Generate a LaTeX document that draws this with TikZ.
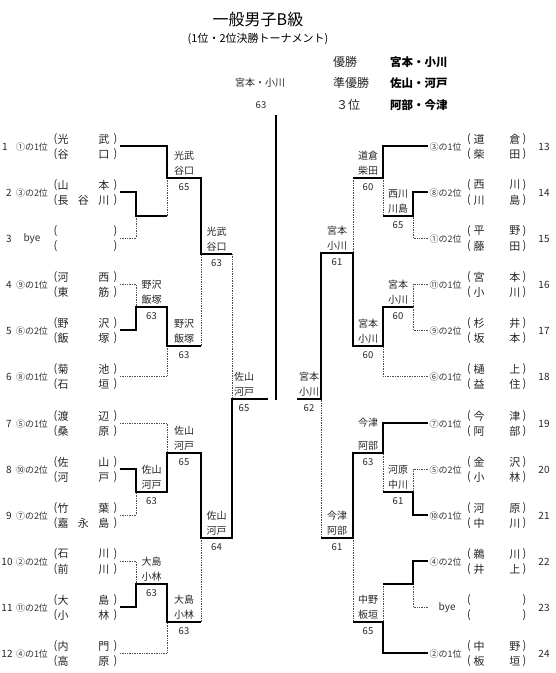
\documentclass[tikz,border=0pt]{standalone}
\usepackage{fontspec}
\setmainfont{Noto Sans CJK JP}
\newcommand{\lent}[7]{%
  \coordinate (#1) at (120,#2);
  \node[rn] (#1n) at (#4,{#2+1}) {#3};
  \node[lbl] (#1l) at (32,{#2+1}) {#5};
  \node[nm] (#1pa) at (55.5,{#2-7}) {(};
  \node[nm] (#1pb) at (115.5,{#2-7}) {)};
  \node[nm] (#1t) at (83.5,{#2-7}) {\hbox to 52pt{#6}};
  \node[nm] (#1qa) at (55.5,{#2+8}) {(};
  \node[nm] (#1qb) at (115.5,{#2+8}) {)};
  \node[nm] (#1b) at (83.5,{#2+8}) {\hbox to 52pt{#7}};
}
\newcommand{\rent}[6]{%
  \coordinate (#1) at (428,#2);
  \node[lbl,anchor=west] (#1l) at (429.5,{#2+1}) {#4};
  \node[nm] (#1pa) at (469,{#2-7}) {(};
  \node[nm] (#1pb) at (524.5,{#2-7}) {)};
  \node[nm] (#1t) at (497,{#2-7}) {\hbox to 47pt{#5}};
  \node[nm] (#1qa) at (469,{#2+8}) {(};
  \node[nm] (#1qb) at (524.5,{#2+8}) {)};
  \node[nm] (#1b) at (497,{#2+8}) {\hbox to 47pt{#6}};
  \node[rn] (#1n) at (544,{#2+1}) {#3};
}
\newcommand{\wlab}[6]{%
  \node[wn] (#1t) at (#2,{#3-22}) {#4};
  \node[wn] (#1b) at (#2,{#3-7}) {#5};
  \node[sc] (#1s) at (#2,{#3+9}) {#6};
}
\begin{document}
\begin{tikzpicture}[x=1pt,y=-1pt,
  win/.style={line width=2.3pt,line join=miter},
  lose/.style={line width=0.7pt,densely dotted,black!70},
  nm/.style={inner sep=0pt,font=\fontsize{11}{12}\selectfont,text=black!85},
  lbl/.style={inner sep=0pt,font=\fontsize{9}{10}\selectfont,text=black!80},
  rn/.style={inner sep=0pt,font=\fontsize{10}{11}\selectfont,text=black!85},
  wn/.style={inner sep=0pt,font=\fontsize{10}{11}\selectfont,text=black!85},
  sc/.style={inner sep=0pt,font=\fontsize{9.5}{10}\selectfont,text=black!85},
  hd/.style={inner sep=0pt,font=\fontsize{12}{13}\selectfont,text=black!85},
  hb/.style={inner sep=0pt,font=\fontsize{11.5}{12}\selectfont\bfseries}]
\fill[white] (0,0) rectangle (556,673);
\useasboundingbox (0,0) rectangle (556,673);

% header
\node[inner sep=0pt,font=\fontsize{16}{17}\selectfont] (title) at (258,19) {一般男子B級};
\node[inner sep=0pt,font=\fontsize{11}{12}\selectfont] (sub) at (258,39) {(1位・2位決勝トーナメント)};
\node[hd,anchor=west] (h1) at (333,62) {優勝};
\node[hd,anchor=west] (h2) at (333,83) {準優勝};
\node[hd,anchor=west] (h3) at (336,105) {３位};
\node[hb,anchor=west] (w1) at (390,62) {宮本・小川};
\node[hb,anchor=west] (w2) at (390,83) {佐山・河戸};
\node[hb,anchor=west] (w3) at (390,105) {阿部・今津};
\node[wn] (champ) at (260,83) {宮本・小川};
\node[sc] (champs) at (261,105) {63};

% entries left
\lent{l1}{146}{1}{5}{①の1位}{光\hfil 武}{谷\hfil 口}
\lent{l2}{192}{2}{9}{③の2位}{山\hfil 本}{長\hfil 谷\hfil 川}
\lent{l3}{238}{3}{9}{{\fontsize{10}{11}\selectfont bye}}{}{}
\lent{l4}{284}{4}{9}{⑨の1位}{河\hfil 西}{東\hfil 筋}
\lent{l5}{330}{5}{9}{⑥の2位}{野\hfil 沢}{飯\hfil 塚}
\lent{l6}{376}{6}{9}{⑧の1位}{菊\hfil 池}{石\hfil 垣}
\lent{l7}{423}{7}{9}{⑤の1位}{渡\hfil 辺}{桑\hfil 原}
\lent{l8}{469}{8}{9}{⑩の2位}{佐\hfil 山}{河\hfil 戸}
\lent{l9}{515}{9}{9}{⑦の2位}{竹\hfil 葉}{嘉\hfil 永\hfil 島}
\lent{l10}{561}{10}{7}{②の2位}{石\hfil 川}{前\hfil 川}
\lent{l11}{607}{11}{7}{⑪の2位}{大\hfil 島}{小\hfil 林}
\lent{l12}{653}{12}{7}{④の1位}{内\hfil 門}{高\hfil 原}

% entries right
\rent{r13}{146}{13}{③の1位}{道\hfil 倉}{柴\hfil 田}
\rent{r14}{192}{14}{⑧の2位}{西\hfil 川}{川\hfil 島}
\rent{r15}{238}{15}{①の2位}{平\hfil 野}{藤\hfil 田}
\rent{r16}{284}{16}{⑪の1位}{宮\hfil 本}{小\hfil 川}
\rent{r17}{330}{17}{⑨の2位}{杉\hfil 井}{坂\hfil 本}
\rent{r18}{376}{18}{⑥の1位}{樋\hfil 上}{益\hfil 住}
\rent{r19}{423}{19}{⑦の1位}{今\hfil 津}{阿\hfil 部}
\rent{r20}{469}{20}{⑤の2位}{金\hfil 沢}{小\hfil 林}
\rent{r21}{515}{21}{⑩の1位}{河\hfil 原}{中\hfil 川}
\rent{r22}{561}{22}{④の2位}{鵜\hfil 川}{井\hfil 上}
\rent{r23}{607}{23}{\hspace*{9pt}{\fontsize{10}{11}\selectfont bye}}{}{}
\rent{r24}{653}{24}{②の1位}{中\hfil 野}{板\hfil 垣}

% junctions
\coordinate (ja) at (167,178);
\coordinate (jb) at (136,216);
\coordinate (jc) at (201,254);
\coordinate (jd) at (136,307);
\coordinate (je) at (167,346);
\coordinate (jf) at (232,399);
\coordinate (jg) at (167,453);
\coordinate (jh) at (136,492);
\coordinate (ji) at (201,538);
\coordinate (jj) at (136,584);
\coordinate (jk) at (167,622);
\coordinate (lfin) at (268,399);
\coordinate (ra) at (383,178);
\coordinate (rb) at (413,216);
\coordinate (rc) at (353,253);
\coordinate (rd) at (413,307);
\coordinate (re) at (383,346);
\coordinate (rf) at (321,399);
\coordinate (rg) at (383,453);
\coordinate (rh) at (413,492);
\coordinate (ri) at (353,538);
\coordinate (rj) at (413,584);
\coordinate (rk) at (383,622);
\coordinate (rfin) at (297,399);
\coordinate (ctop) at (276,115);
\coordinate (cbot) at (276,400);

% left bracket
\draw[lose] (jc -| jf) -- (jf);
\draw[lose] (jb -| ja) -- (ja);
\draw[lose] (l3) -| (jb);
\draw[lose] (l4) -| (jd);
\draw[lose] (je -| jc) -- (jc);
\draw[lose] (l6) -| (je);
\draw[lose] (l7) -| (jg);
\draw[lose] (l9) -| (jh);
\draw[lose] (l10) -| (jj);
\draw[lose] (jk -| ji) -- (ji);
\draw[lose] (l12) -| (jk);
\draw[win] (l1) -| (ja) -| (jc) -- (jc -| jf);
\draw[win] (l2) -| (jb) -- (jb -| ja);
\draw[win] (l5) -| (jd) -| (je) -- (je -| jc);
\draw[win] (l8) -| (jh) -| (jg) -| (ji) -| (jf) -- (lfin);
\draw[win] (l11) -| (jj) -| (jk) -- (jk -| ji);

% right bracket
\draw[lose] (ra -| rc) -- (rc);
\draw[lose] (rb -| ra) -- (ra);
\draw[lose] (r15) -| (rb);
\draw[lose] (r16) -| (rd);
\draw[lose] (r17) -| (rd);
\draw[lose] (r18) -| (re);
\draw[lose] (ri -| rf) -- (rf);
\draw[lose] (r20) -| (rh);
\draw[lose] (rh -| rg) -- (rg);
\draw[lose] (rj -| rk) -- (rk);
\draw[lose] (r23) -| (rj);
\draw[lose] (rk -| ri) -- (ri);
\draw[win] (r13) -| (ra) -- (ra -| rc);
\draw[win] (r14) -| (rb) -- (rb -| ra);
\draw[win] (rd) -| (re) -| (rc) -| (rf) -- (rfin);
\draw[win] (r19) -| (rg) -| (ri) -- (ri -| rf);
\draw[win] (rh) -- (rh -| rg);
\draw[win] (r21) -| (rh);
\draw[win] (r22) -| (rj) -- (rj -| rk);
\draw[win] (r24) -| (rk) -- (rk -| ri);

% final
\draw[win] (ctop) -- (cbot);

% winner labels
\wlab{wa}{184}{178}{光武}{谷口}{65}
\wlab{wc}{216.5}{254}{光武}{谷口}{63}
\wlab{wd}{151.5}{307}{野沢}{飯塚}{63}
\wlab{we}{184}{346}{野沢}{飯塚}{63}
\wlab{wf}{244}{399}{佐山}{河戸}{65}
\wlab{wg}{184}{453}{佐山}{河戸}{65}
\wlab{wh}{151.5}{492}{佐山}{河戸}{63}
\wlab{wi}{216.5}{538}{佐山}{河戸}{64}
\wlab{wj}{151.5}{584}{大島}{小林}{63}
\wlab{wk}{184}{622}{大島}{小林}{63}
\wlab{va}{368}{178}{道倉}{柴田}{60}
\wlab{vb}{398}{216}{西川}{川島}{65}
\wlab{vc}{337}{253}{宮本}{小川}{61}
\wlab{vd}{398}{307}{宮本}{小川}{60}
\wlab{ve}{368}{346}{宮本}{小川}{60}
\wlab{vf}{309}{399}{宮本}{小川}{62}
\node[wn] (vgt) at (368,423) {今津};
\node[wn] (vgb) at (368,446) {阿部};
\node[sc] (vgs) at (368,462) {63};
\wlab{vh}{398}{492}{河原}{中川}{61}
\wlab{vi}{337}{538}{今津}{阿部}{61}
\wlab{vk}{368}{622}{中野}{板垣}{65}
\end{tikzpicture}
\end{document}
